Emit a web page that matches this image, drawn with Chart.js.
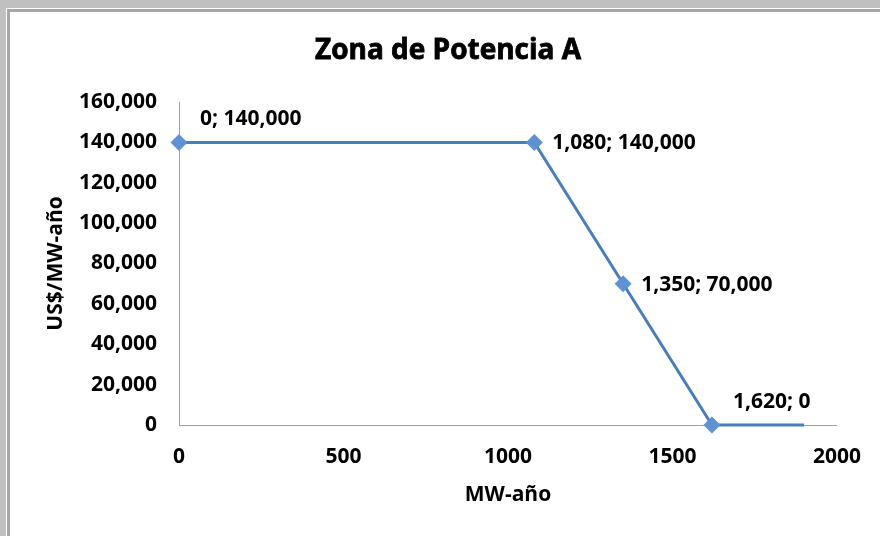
<!DOCTYPE html>
<html>
<head>
<meta charset="utf-8">
<script src="https://cdn.jsdelivr.net/npm/chart.js@4.4.1/dist/chart.umd.min.js"></script>
<style>
  html, body { margin: 0; padding: 0; background: #c0c0c0; width: 880px; height: 536px; overflow: hidden; }
  .frame { position: absolute; left: 6px; top: 8px; width: 874px; height: 528px; background: #fff; }
  .inner { position: absolute; left: 7px; top: 9px; width: 870px; height: 524px; background: #fff;
           border-left: 3px solid #a6a6a6; border-top: 3px solid #a6a6a6; }
  canvas { position: absolute; left: 0; top: 0; }
</style>
</head>
<body>
<div class="frame"></div>
<div class="inner"></div>
<canvas id="zonaChart" width="880" height="536"></canvas>
<script>
// Data
const mwAno = [0, 1080, 1350, 1620, 1900];
const precio = [140000, 140000, 70000, 0, 0];
const showMarker = [true, true, true, true, false];
const xTicks = [0, 500, 1000, 1500, 2000];
const yTicks = [0, 20000, 40000, 60000, 80000, 100000, 120000, 140000, 160000];
const chartTitle = 'Zona de Potencia A';

const fontFamily = '"Open Sans", "DejaVu Sans", sans-serif';
const lineColor = '#4a7ebb';

// where each data label sits relative to its point
const labelPlacement = ['above', 'right', 'right', 'above', null];

function fmt(n) {
    return n.toLocaleString('en-US');
}

// title drawn by hand so it can sit a bit right of the canvas centre, like the original
const titlePlugin = {
    id: 'titlePlugin',
    afterDraw(chart) {
        const ctx = chart.ctx;
        ctx.save();
        ctx.font = 'bold 28px ' + fontFamily;
        ctx.fillStyle = '#000';
        ctx.strokeStyle = '#000';
        ctx.lineWidth = 0.8;
        ctx.textAlign = 'center';
        ctx.textBaseline = 'middle';
        ctx.fillText(chartTitle, 448, 51);
        ctx.strokeText(chartTitle, 448, 51);
        ctx.restore();
    }
};

const pointLabels = {
    id: 'pointLabels',
    afterDatasetsDraw(chart) {
        const ctx = chart.ctx;
        const meta = chart.getDatasetMeta(0);
        ctx.save();
        ctx.font = 'bold 21px ' + fontFamily;
        ctx.fillStyle = '#000';
        ctx.textBaseline = 'middle';
        ctx.textAlign = 'left';
        meta.data.forEach((pt, i) => {
            const place = labelPlacement[i];
            if (!place) return;
            const text = fmt(mwAno[i]) + '; ' + fmt(precio[i]);
            if (place === 'above') {
                ctx.fillText(text, pt.x + 21, pt.y - 23);
            } else {
                ctx.fillText(text, pt.x + 18, pt.y + 1);
            }
        });
        ctx.restore();
    }
};

new Chart(document.getElementById('zonaChart'), {
    type: 'scatter',
    data: {
        datasets: [{
            data: mwAno.map((x, i) => ({ x: x, y: precio[i] })),
            showLine: true,
            borderColor: lineColor,
            borderWidth: 3,
            backgroundColor: lineColor,
            pointStyle: 'rectRot',
            pointRadius: showMarker.map(m => m ? 8.5 : 0),
            pointBorderWidth: 0,
            pointBackgroundColor: '#5e92d2',
            tension: 0,
            clip: false
        }]
    },
    options: {
        responsive: false,
        animation: false,
        devicePixelRatio: 1,
        layout: { padding: { left: 16, right: 43, top: 102, bottom: 0 } },
        plugins: {
            legend: { display: false },
            tooltip: { enabled: false },
            title: { display: false }
        },
        scales: {
            x: {
                type: 'linear',
                min: 0,
                max: 2000,
                afterBuildTicks: s => { s.ticks = xTicks.map(v => ({ value: v })); },
                afterFit: s => { s.height = 111; },
                grid: { display: false, drawTicks: false },
                border: { display: true, color: '#a0a0a0', width: 1 },
                ticks: {
                    color: '#000',
                    padding: 19,
                    maxRotation: 0,
                    font: { family: fontFamily, size: 21, weight: 'bold' },
                    callback: v => String(v)
                },
                title: {
                    display: true,
                    text: 'MW-año',
                    color: '#000',
                    font: { family: fontFamily, size: 21, weight: 'bold' },
                    padding: { top: 0, bottom: 28 }
                }
            },
            y: {
                min: 0,
                max: 160000,
                afterBuildTicks: s => { s.ticks = yTicks.map(v => ({ value: v })); },
                afterFit: s => { s.width = 163; },
                grid: { display: false, drawTicks: false },
                border: { display: true, color: '#a0a0a0', width: 1 },
                ticks: {
                    color: '#000',
                    padding: 22,
                    font: { family: fontFamily, size: 21, weight: 'bold' },
                    callback: v => fmt(v)
                },
                title: {
                    display: true,
                    text: 'US$/MW-año',
                    color: '#000',
                    font: { family: fontFamily, size: 21, weight: 'bold' },
                    padding: { top: 27, bottom: 0 }
                }
            }
        }
    },
    plugins: [pointLabels, titlePlugin]
});
</script>
</body>
</html>
